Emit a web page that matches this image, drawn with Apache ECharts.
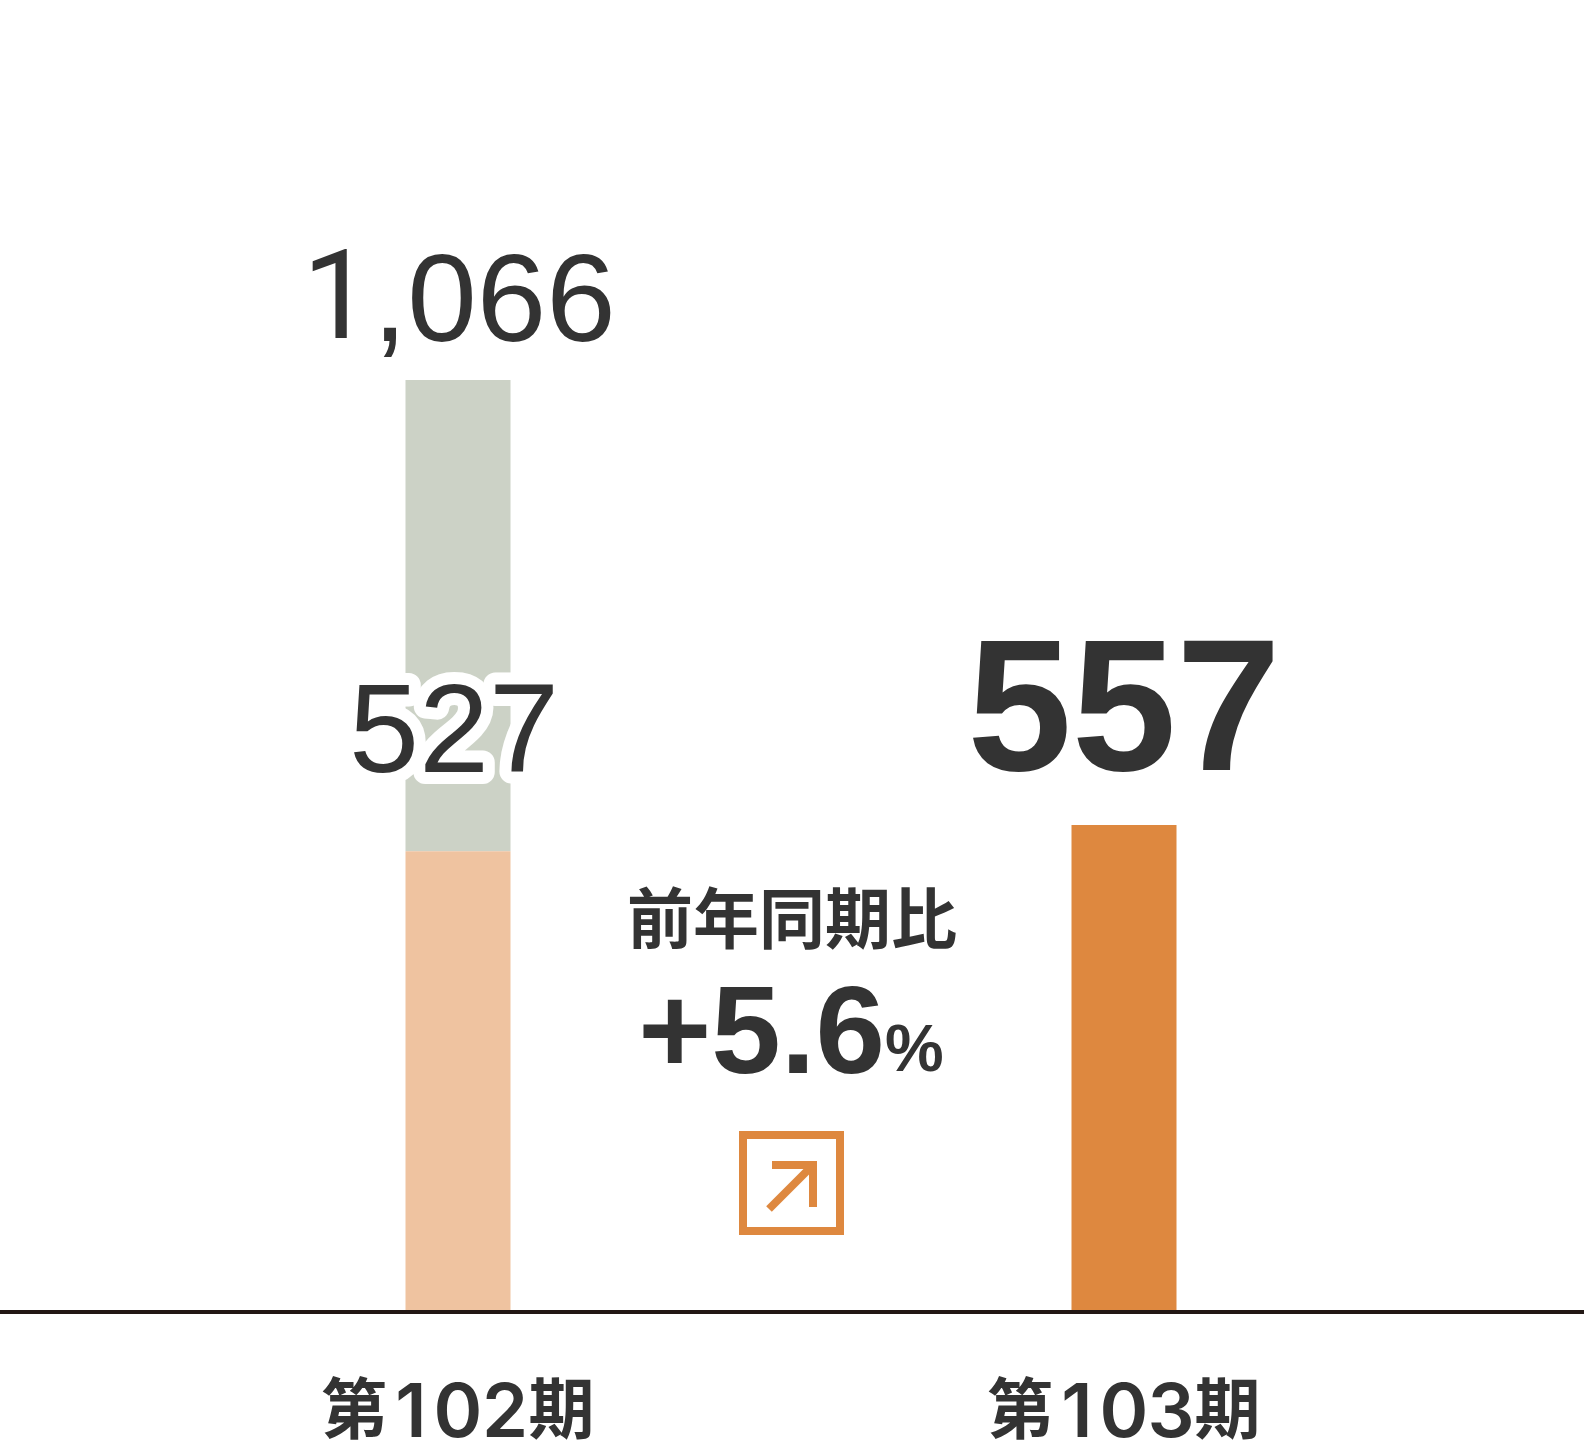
<!DOCTYPE html>
<html lang="ja">
<head>
<meta charset="utf-8">
<title>前年同期比</title>
<style>html,body{margin:0;padding:0;background:#fff}#chart{width:1584px;height:1446px}</style>
<script src="https://cdn.jsdelivr.net/npm/echarts@6/dist/echarts.min.js"></script>
</head>
<body>
<div id="chart"></div>
<script>
const categories = ['第102期', '第103期'];
const lowerValues = [527, null];
const upperValues = [539, null];
const currentValues = [null, 557];
const totalLabels = ['1,066', null];
const changeTitle = '前年同期比';
const changeValue = '+5.6';
const changeUnit = '%';

const INK = '#333333', ORANGE = '#DE883F', PEACH = '#EFC3A0', SAGE = '#CCD2C6';
const LATIN = '"Liberation Sans", Arial, sans-serif';
const CJK = '"Noto Sans CJK JP", sans-serif';
const AXIS_TOP = 380, AXIS_BOTTOM = 134;

const chart = echarts.init(document.getElementById('chart'), null, {renderer: 'canvas'});
chart.setOption({
  animation: false,
  backgroundColor: '#ffffff',
  grid: [
    {left: 125, width: 1332, top: AXIS_TOP, bottom: AXIS_BOTTOM, outerBoundsMode: 'none'},
    {left: 0, right: 0, top: AXIS_TOP, bottom: AXIS_BOTTOM, outerBoundsMode: 'none'}
  ],
  xAxis: [
    {
      type: 'category', gridIndex: 0, data: categories,
      axisLine: {show: false}, axisTick: {show: false},
      axisLabel: {
        margin: 61,
        formatter: v => {
          const m = v.match(/^(\D+)(\d+)(\D+)$/);
          return '{c|' + m[1] + '}' + m[2].split('').map(d => '{d|' + d + '}').join('') + '{c|' + m[3] + '}';
        },
        rich: {
          c: {fontFamily: CJK, fontWeight: 'bold', fontSize: 66, color: INK, lineHeight: 70},
          d: {fontFamily: 'Inter', fontWeight: 600, fontSize: 74, color: INK, width: 47, align: 'center', lineHeight: 70, padding: [14, 0, 0, 0]}
        }
      }
    },
    {
      type: 'category', gridIndex: 1, data: [],
      z: 5,
      axisLine: {show: true, lineStyle: {color: '#231815', width: 4}},
      axisTick: {show: false}, axisLabel: {show: false}
    }
  ],
  yAxis: [
    {type: 'value', gridIndex: 0, min: 0, max: 1066, show: false},
    {type: 'value', gridIndex: 1, min: 0, max: 1066, show: false}
  ],
  series: [
    {
      name: 'lower', type: 'bar', stack: 'a', z: 4, barWidth: 105, data: lowerValues,
      itemStyle: {color: PEACH},
      label: {
        show: true, position: 'top', distance: 51, offset: [-4, 0],
        fontFamily: LATIN, fontSize: 126, color: INK,
        textBorderColor: '#fff', textBorderWidth: 24,
        formatter: p => String(p.value)
      }
    },
    {
      name: 'upper', type: 'bar', stack: 'a', z: 3, barWidth: 105, data: upperValues,
      itemStyle: {color: SAGE},
      label: {
        show: true, position: 'top', distance: 11, offset: [1, 0],
        color: INK,
        formatter: p => {
          const t = totalLabels[p.dataIndex];
          return '{one|' + t.charAt(0) + '}{rest|' + t.slice(1) + '}';
        },
        rich: {
          one: {fontFamily: 'Roboto', fontSize: 125, color: INK},
          rest: {fontFamily: LATIN, fontSize: 125, color: INK}
        }
      }
    },
    {
      name: 'current', type: 'bar', stack: 'a', z: 3, barWidth: 105, data: currentValues,
      itemStyle: {color: ORANGE},
      label: {
        show: true, position: 'top', distance: 13,
        fontFamily: LATIN, fontWeight: 'bold', fontSize: 188, color: INK,
        formatter: p => String(p.value)
      }
    }
  ],
  graphic: [
    {
      type: 'text', z: 10, x: 792, y: 918,
      style: {text: changeTitle, fontFamily: CJK, fontWeight: 'bold', fontSize: 66, fill: INK, align: 'center', verticalAlign: 'middle'}
    },
    {
      type: 'text', z: 10, x: 791, y: 1039,
      style: {
        text: '{v|' + changeValue + '}{u|' + changeUnit + '}',
        align: 'center', verticalAlign: 'middle',
        rich: {
          v: {fontFamily: LATIN, fontWeight: 'bold', fontSize: 125, fill: INK, color: INK, verticalAlign: 'bottom'},
          u: {fontFamily: LATIN, fontWeight: 'bold', fontSize: 66, fill: INK, color: INK, verticalAlign: 'bottom', padding: [0, 0, 16, 0]}
        }
      }
    },
    {
      type: 'rect', z: 10,
      shape: {x: 743, y: 1135, width: 97, height: 96},
      style: {fill: 'none', stroke: ORANGE, lineWidth: 8}
    },
    {
      type: 'polyline', z: 10,
      shape: {points: [[772, 1165], [813, 1165], [813, 1207]]},
      style: {fill: 'none', stroke: ORANGE, lineWidth: 8}
    },
    {
      type: 'line', z: 10,
      shape: {x1: 769, y1: 1209, x2: 811, y2: 1167},
      style: {stroke: ORANGE, lineWidth: 8}
    }
  ]
});
// Round the white halo round the "527" label, as in the reference.
chart.getZr().storage.getDisplayList(true).forEach(el => {
  if (el.style && el.style.text === String(lowerValues[0])) { el.style.lineJoin = 'round'; el.dirty(); }
});
chart.getZr().refreshImmediately();
</script>
</body>
</html>
